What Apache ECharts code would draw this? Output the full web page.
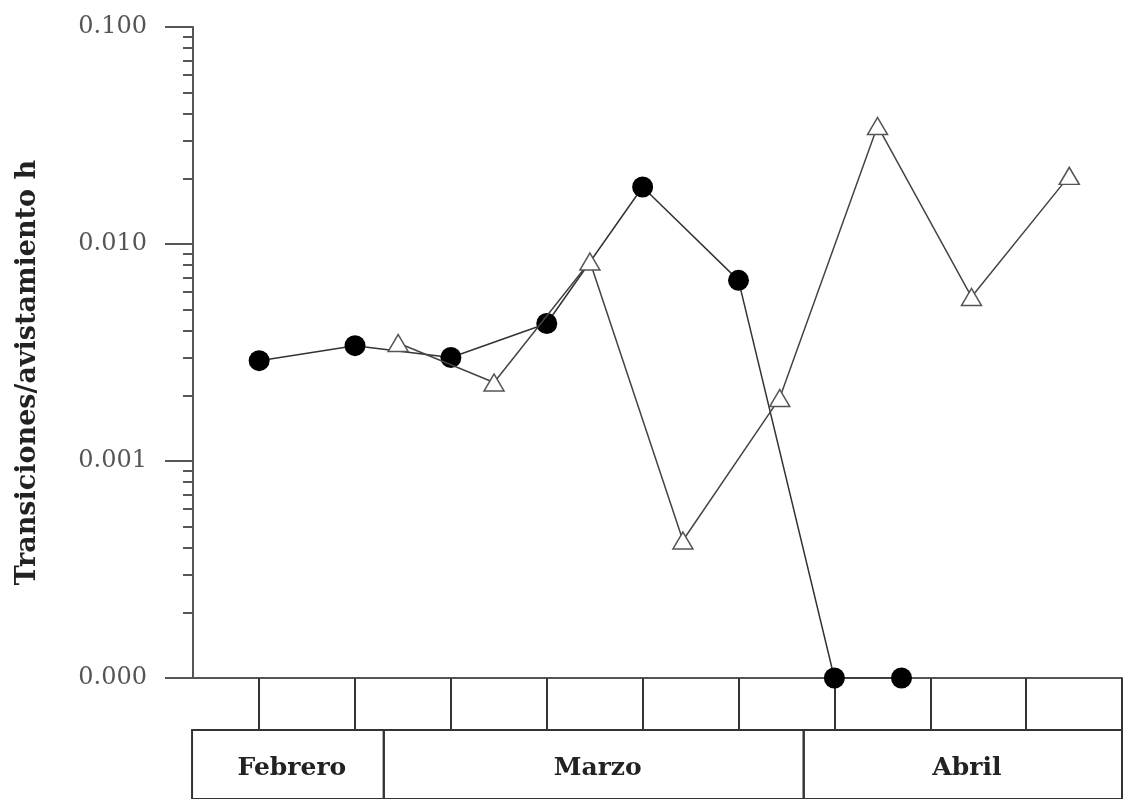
<!DOCTYPE html>
<html>
<head>
<meta charset="utf-8">
<title>Transiciones/avistamiento h</title>
<script src="https://cdn.jsdelivr.net/npm/echarts@6/dist/echarts.min.js"></script>
<style>
  html, body { margin: 0; padding: 0; background: #fff; }
  #chartsId { width: 1124px; height: 799px; }
</style>
</head>
<body>
<div id="chartsId"></div>
<script>
// posiciones en el eje x (1 = primera division de la tabla)
const circleX = [1, 2, 3, 4, 5, 6, 7, 7.7];
const circleY = [0.0029, 0.0034, 0.0030, 0.0043, 0.0183, 0.0068, 0.0001, 0.0001];
const triangleX = [2.45, 3.45, 4.45, 5.42, 6.43, 7.45, 8.43, 9.45];
const triangleY = [0.0035, 0.0023, 0.0083, 0.00043, 0.00195, 0.035, 0.0057, 0.0206];
const cellTicks = [1, 2, 3, 4, 5, 6, 7, 8, 9, 10];
const minorTicks = [
  0.0002, 0.0003, 0.0004, 0.0005, 0.0006, 0.0007, 0.0008, 0.0009,
  0.002, 0.003, 0.004, 0.005, 0.006, 0.007, 0.008, 0.009,
  0.02, 0.03, 0.04, 0.05, 0.06, 0.07, 0.08, 0.09
];
const monthNames = ["Febrero", "Marzo", "Abril"];
const monthStart = [0.3, 2.3, 6.68];
const monthEnd = [2.3, 6.68, 10];

const axisColor = "#555";
const serif = "DejaVu Serif";

let myChart = echarts.init(document.getElementById("chartsId"));

let pairs = (xs, ys) => xs.map((x, i) => [x, ys[i]]);

let option = {
  backgroundColor: "#fff",
  animation: false,
  grid: [
    { left: 193, right: 2, top: 27, bottom: 121 },
    { left: 193, right: 2, top: 730, height: 76 }
  ],
  xAxis: [
    {
      type: "value",
      gridIndex: 0,
      min: 0.31,
      max: 10,
      splitLine: { show: false },
      axisLine: { lineStyle: { color: axisColor, width: 2 } },
      axisTick: {
        show: true,
        customValues: cellTicks,
        length: 52,
        lineStyle: { color: "#333", width: 2 }
      },
      axisLabel: { show: false }
    },
    {
      type: "value",
      gridIndex: 1,
      min: 0.31,
      max: 10,
      show: false
    }
  ],
  yAxis: [
    {
      type: "log",
      gridIndex: 0,
      logBase: 10,
      min: 0.0001,
      max: 0.1,
      name: "Transiciones/avistamiento h",
      nameLocation: "middle",
      nameRotate: 90,
      nameGap: 152,
      nameTextStyle: {
        fontFamily: serif,
        fontWeight: "bold",
        fontSize: 27,
        color: "#222",
        padding: [0, 40, 0, 0]
      },
      splitLine: { show: false },
      axisLine: { show: true, lineStyle: { color: axisColor, width: 2 } },
      axisTick: { show: true, length: 28, lineStyle: { color: axisColor, width: 2 } },
      axisLabel: {
        margin: 46,
        fontFamily: serif,
        fontSize: 24,
        color: "#555",
        formatter: function(value) {
          return value.toFixed(3);
        }
      }
    },
    {
      // marcas menores de la escala logaritmica
      type: "log",
      gridIndex: 0,
      logBase: 10,
      min: 0.0001,
      max: 0.1,
      position: "left",
      splitLine: { show: false },
      axisLine: { show: false },
      axisTick: {
        show: true,
        customValues: minorTicks,
        length: 10,
        lineStyle: { color: axisColor, width: 2 }
      },
      axisLabel: { show: false }
    },
    {
      type: "value",
      gridIndex: 1,
      min: 0,
      max: 1,
      show: false
    }
  ],
  series: [
    {
      name: "circulos",
      type: "line",
      xAxisIndex: 0,
      yAxisIndex: 0,
      symbol: "circle",
      symbolSize: 21,
      lineStyle: { color: "#333", width: 1.5 },
      itemStyle: { color: "#000" },
      data: pairs(circleX, circleY),
      z: 3
    },
    {
      name: "triangulos",
      type: "line",
      xAxisIndex: 0,
      yAxisIndex: 0,
      symbol: "triangle",
      symbolSize: [20, 17],
      showAllSymbol: true,
      lineStyle: { color: "#444", width: 1.5 },
      itemStyle: { color: "#fff", borderColor: "#555", borderWidth: 1.5 },
      data: pairs(triangleX, triangleY),
      z: 4
    },
    {
      name: "meses",
      type: "custom",
      xAxisIndex: 1,
      yAxisIndex: 2,
      renderItem: function(params, api) {
        let p0 = api.coord([api.value(0), 1]);
        let p1 = api.coord([api.value(1), 0]);
        let name = monthNames[params.dataIndex];
        return {
          type: "group",
          children: [
            {
              type: "rect",
              shape: { x: p0[0], y: p0[1], width: p1[0] - p0[0], height: p1[1] - p0[1] },
              style: { fill: "none", stroke: "#333", lineWidth: 2 }
            },
            {
              type: "text",
              style: {
                text: name,
                x: (p0[0] + p1[0]) / 2 + 4,
                y: p0[1] + 38,
                align: "center",
                verticalAlign: "middle",
                font: "bold 25px 'DejaVu Serif'",
                fill: "#222"
              }
            }
          ]
        };
      },
      data: monthStart.map((s, i) => [s, monthEnd[i]])
    }
  ]
};

myChart.setOption(option);
</script>
</body>
</html>
